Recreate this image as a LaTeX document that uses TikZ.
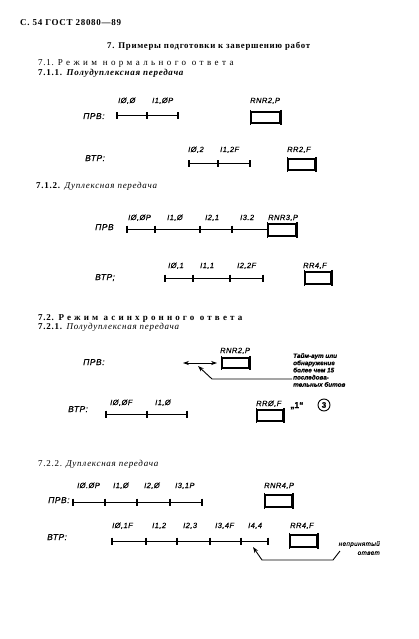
\documentclass[tikz,border=0pt]{standalone}
\usepackage{fontspec}
\setmainfont{Liberation Serif}[LetterSpace=8]
\newfontfamily\lab[LetterSpace=6,FakeBold=0.3]{Liberation Sans}
\newfontfamily\labn[FakeBold=0.5]{Liberation Sans}
\usetikzlibrary{arrows.meta}
\tikzset{
  txt/.style={inner sep=0pt, anchor=base west},
  lbl/.style={txt, font=\lab\itshape\fontsize{7.5}{8}\selectfont},
  side/.style={txt, font=\lab\itshape\fontsize{8.5}{9}\selectfont},
  note/.style={inner sep=0pt, anchor=north west, align=left, font=\labn\bfseries\itshape\fontsize{6.3}{7.2}\selectfont},
  tl/.style={line width=1pt},
  tk/.style={line width=1.4pt},
  frm/.style={draw, rectangle, line width=1.1pt, inner sep=0pt},
  bar/.style={line width=1.9pt},
  hd/.style={txt, font=\fontsize{9}{10}\selectfont},
  arr/.style={line width=0.9pt, -{Stealth[length=6pt,width=4.2pt]}},
  darr/.style={line width=0.9pt, {Stealth[length=6pt,width=4.2pt]}-{Stealth[length=6pt,width=4.2pt]}}
}
\newcommand\tline[3]{% #1 name, #2 y, #3 list of x
  \foreach \x [count=\i] in {#3} {\coordinate (#1-\i) at (\x,#2);}
  \foreach \x [count=\i] in {#3} {\global\let\lastidx\i}
  \draw[tl] (#1-1) -- (#1-\lastidx);
  \foreach \x [count=\i] in {#3} {\draw[tk] ([yshift=3.5pt]#1-\i) -- ([yshift=-3.5pt]#1-\i);}
}
\newcommand\fbx[5]{% name, x1, y1, x2, y2
  \node[frm, minimum width={#4-#2}, minimum height={#5-#3}] (#1) at ({(#2+#4)/2},{(#3+#5)/2}) {};
  \draw[bar] ([yshift=1.5pt]#1.north west) -- ([yshift=-1.5pt]#1.south west);
  \draw[bar] ([yshift=1.5pt]#1.north east) -- ([yshift=-1.5pt]#1.south east);
}
\begin{document}
\begin{tikzpicture}[x=1pt,y=-1pt]
\fill[white] (0,0) rectangle (419,639);
\path[use as bounding box] (0,0) rectangle (419,639);

% headers
\node[hd, font=\bfseries\fontsize{9}{10}\selectfont] (hdr) at (20,26) {С. 54 ГОСТ 28080—89};
\node[hd, font=\bfseries\fontsize{8.8}{10}\selectfont] (ttl) at (107,49) {7. Примеры подготовки к завершению работ};
\node[hd] (h71) at (38,66) {7.1. {\addfontfeature{LetterSpace=38}Режим нормального ответа}};
\node[hd] (h711) at (38,76) {\textbf{7.1.1.} \textbf{\textit{Полудуплексная передача}}};
\node[hd] (h712) at (36,188) {\textbf{7.1.2.} \textit{Дуплексная передача}};
\node[hd] (h72) at (38,320) {\textbf{7.2.} {\bfseries\addfontfeature{LetterSpace=35}Режим асинхронного ответа}};
\node[hd] (h721) at (38,329) {\textbf{7.2.1.} \textit{Полудуплексная передача}};
\node[hd] (h722) at (38,466) {7.2.2. \textit{Дуплексная передача}};

% 7.1.1
\node[side] (s1a) at (83,119) {ПРВ:};
\node[lbl] (l1a) at (118,103) {IØ,Ø};
\node[lbl] (l1b) at (152,103) {I1,ØP};
\node[lbl] (l1c) at (250,103) {RNR2,P};
\tline{p1}{116}{117,147,178}
\fbx{b1}{251}{112}{280}{123}

\node[side] (s1b) at (85,161) {ВТР:};
\node[lbl] (l1d) at (188,152) {IØ,2};
\node[lbl] (l1e) at (220,152) {I1,2F};
\node[lbl] (l1f) at (287,152) {RR2,F};
\tline{p2}{164}{189,218,250}
\fbx{b2}{288}{159}{315}{170}

% 7.1.2
\node[side] (s2a) at (95,230) {ПРВ};
\node[lbl] (l2a) at (128,220) {IØ,ØP};
\node[lbl] (l2b) at (167,220) {I1,Ø};
\node[lbl] (l2c) at (205,220) {I2,1};
\node[lbl] (l2d) at (240,220) {I3.2};
\node[lbl] (l2e) at (268,220) {RNR3,P};
\tline{p3}{229}{127,155,200,232,268}
\fbx{b3}{268}{224}{296}{236}

\node[side] (s2b) at (95,280) {ВТР;};
\node[lbl] (l2f) at (168,268) {IØ,1};
\node[lbl] (l2g) at (200,268) {I1,1};
\node[lbl] (l2h) at (237,268) {I2,2F};
\node[lbl] (l2i) at (303,268) {RR4,F};
\tline{p4}{278}{165,193,230,263}
\fbx{b4}{305}{272}{331}{284}

% 7.2.1
\node[side] (s3a) at (83,365) {ПРВ:};
\node[lbl] (l3a) at (220,353) {RNR2,P};
\fbx{b5}{222}{358}{249}{368}
\coordinate (d1) at (183,363);
\coordinate (d2) at (217,363);
\draw[darr] (d1) -- (d2);
\node[note] (n1) at (293,353) {Тайм-аут или\\обнаружение\\более чем 15\\последова-\\тельных битов};
\coordinate (n1s) at (292,379);
\coordinate (n1k) at (212,379);
\coordinate (n1e) at (198,366);
\draw[arr] (n1s) -- (n1k) -- (n1e);

\node[side] (s3b) at (68,412) {ВТР:};
\node[lbl] (l3b) at (110,405) {IØ,ØF};
\node[lbl] (l3c) at (155,405) {I1,Ø};
\node[lbl] (l3d) at (256,406) {RRØ,F};
\tline{p5}{414}{106,147,187}
\fbx{b6}{257}{410}{283}{421}
\node[lbl, font=\labn\bfseries\fontsize{8.5}{9}\selectfont] (q1) at (290,408) {„1“};
\node[circle, draw, line width=0.9pt, inner sep=0pt, minimum size=12pt, font=\labn\bfseries\fontsize{8}{9}\selectfont] (c3) at (324,405) {3};

% 7.2.2
\node[side] (s4a) at (48,503) {ПРВ:};
\node[lbl] (l4a) at (77,488) {IØ.ØP};
\node[lbl] (l4b) at (113,488) {I1,Ø};
\node[lbl] (l4c) at (144,488) {I2,Ø};
\node[lbl] (l4d) at (175,488) {I3,1P};
\node[lbl] (l4e) at (264,488) {RNR4,P};
\tline{p6}{502}{73,105,137,170,202}
\fbx{b7}{265}{495}{292}{507}

\node[side] (s4b) at (47,540) {ВТР:};
\node[lbl] (l4f) at (112,528) {IØ,1F};
\node[lbl] (l4g) at (152,528) {I1,2};
\node[lbl] (l4h) at (183,528) {I2,3};
\node[lbl] (l4i) at (215,528) {I3,4F};
\node[lbl] (l4j) at (248,528) {I4,4};
\node[lbl] (l4k) at (290,528) {RR4,F};
\tline{p7}{541}{112,146,177,210,241,268}
\fbx{b8}{290}{535}{317}{547}
\node[note, font=\lab\itshape\fontsize{6.3}{9}\selectfont, align=right, anchor=north east] (n2) at (380,541) {непринятый\\ответ};
\coordinate (n2s) at (340,551);
\coordinate (n2k1) at (333,560);
\coordinate (n2k2) at (262,560);
\coordinate (n2e) at (253,547);
\draw[arr] (n2s) -- (n2k1) -- (n2k2) -- (n2e);
\end{tikzpicture}
\end{document}
